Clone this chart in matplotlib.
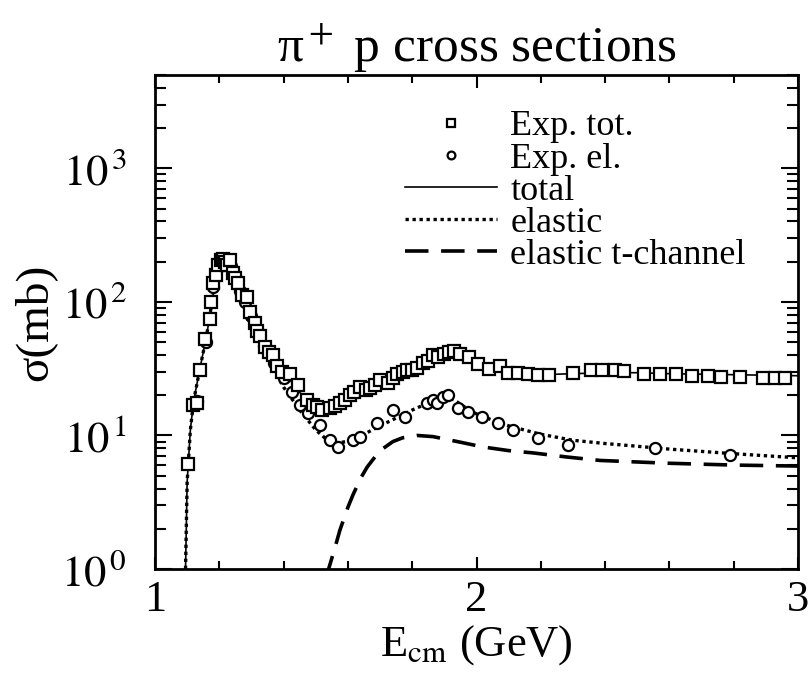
#!/usr/bin/env python3
from matplotlib import pyplot as plt
from matplotlib.ticker import LogLocator, MultipleLocator, FixedLocator

plt.rcParams['font.family'] = ['Liberation Serif', 'DejaVu Serif']
plt.rcParams['mathtext.fontset'] = 'stix'

# experimental total cross section (squares)
tot_E = [1.103, 1.118, 1.13, 1.14, 1.156, 1.171, 1.175, 1.18, 1.19, 1.196, 1.205,
         1.212, 1.218, 1.225, 1.233, 1.243, 1.25, 1.258, 1.27, 1.285, 1.295, 1.31,
         1.317, 1.327, 1.342, 1.355, 1.367, 1.38, 1.395, 1.42, 1.445, 1.472, 1.49,
         1.503, 1.52, 1.544, 1.56, 1.575, 1.59, 1.607, 1.62, 1.638, 1.655, 1.669,
         1.685, 1.70, 1.725, 1.74, 1.753, 1.77, 1.784, 1.80, 1.815, 1.834, 1.85,
         1.865, 1.88, 1.90, 1.915, 1.93, 1.95, 1.977, 2.004, 2.04, 2.073, 2.098,
         2.13, 2.16, 2.19, 2.225, 2.30, 2.357, 2.39, 2.43, 2.46, 2.52, 2.57, 2.62,
         2.67, 2.72, 2.76, 2.82, 2.89, 2.93, 2.96]
tot_sig = [6.1, 17, 17.5, 31, 53, 74, 100, 138, 160, 188, 205,
           210, 198, 190, 205, 166, 150, 138, 112, 108, 84, 70,
           61, 56, 45.6, 42, 40, 33, 30, 29, 24, 18.4, 17,
           16.3, 15.5, 16, 16.5, 17.5, 18.5, 20, 21, 23, 22, 22.5,
           24, 26, 24.6, 27, 29, 30, 31, 31, 32, 35, 36,
           40, 39, 40.6, 42, 42.7, 40.6, 39, 34, 31.4, 33, 29.6,
           29.3, 28.7, 28.3, 28.3, 29.3, 31, 31, 31, 30.5, 29, 28.7, 29,
           28, 27.7, 27.5, 27.5, 27, 27, 27]

# experimental elastic cross section (circles)
el_E = [1.118, 1.13, 1.16, 1.18, 1.20, 1.22, 1.235, 1.25, 1.265, 1.28, 1.30,
        1.32, 1.34, 1.37, 1.40, 1.426, 1.45, 1.476, 1.513, 1.544, 1.57, 1.616,
        1.638, 1.69, 1.74, 1.777, 1.846, 1.865, 1.877, 1.896, 1.91, 1.943, 1.974,
        2.017, 2.067, 2.114, 2.19, 2.285, 2.555, 2.79]
el_sig = [17.5, 18, 50, 130, 185, 195, 185, 155, 120, 100, 78,
          60, 47, 35, 27, 21, 17, 14.7, 12, 9.2, 8.2, 9.2,
          9.7, 12.4, 15.5, 13.7, 17.5, 18.4, 17.5, 19.3, 20, 16, 15,
          13.7, 12.4, 11, 9.5, 8.5, 8.0, 7.1]

# model curves
tot_line_E = [1.095, 1.10, 1.11, 1.12, 1.14, 1.16, 1.18, 1.20, 1.22, 1.235, 1.25,
              1.27, 1.30, 1.33, 1.36, 1.40, 1.45, 1.50, 1.53, 1.56, 1.60, 1.65,
              1.70, 1.75, 1.80, 1.85, 1.90, 1.93, 1.96, 2.00, 2.05, 2.10, 2.20,
              2.30, 2.40, 2.50, 2.60, 2.80, 3.00]
tot_line = [1.0, 4.5, 11, 18, 32, 55, 110, 175, 205, 200, 165,
            120, 78, 55, 40, 30, 21, 16, 15, 16, 19, 22.5,
            26, 29.5, 32.5, 37, 41, 42, 40, 35, 31, 29.5, 28.5,
            29, 29.5, 29.5, 29, 28.5, 28]

el_line_E = [1.095, 1.10, 1.11, 1.12, 1.14, 1.16, 1.18, 1.20, 1.22, 1.235, 1.25,
             1.27, 1.30, 1.33, 1.36, 1.40, 1.45, 1.50, 1.53, 1.56, 1.60, 1.65,
             1.70, 1.75, 1.80, 1.85, 1.90, 1.93, 1.96, 2.00, 2.05, 2.10, 2.20,
             2.30, 2.40, 2.50, 2.60, 2.80, 3.00]
el_line = [1.0, 4.5, 11, 18, 32, 55, 110, 175, 205, 200, 165,
           115, 72, 48, 34, 23, 15.5, 11, 9.5, 8.8, 9.0, 10.2,
           11.8, 13.5, 15.5, 17.5, 19.5, 18.5, 16.5, 14.5, 13, 11.8, 10.2,
           9.2, 8.7, 8.3, 7.9, 7.3, 6.8]

tch_E = [1.53, 1.54, 1.56, 1.575, 1.60, 1.616, 1.64, 1.66, 1.69, 1.71, 1.74,
         1.77, 1.815, 1.865, 1.95, 2.02, 2.10, 2.176, 2.28, 2.384, 2.59, 2.80, 3.0]
tch_sig = [0.85, 1.0, 1.45, 1.95, 2.9, 3.6, 4.8, 5.8, 7.2, 8.0, 9.0,
           9.6, 10.0, 9.8, 8.9, 8.2, 7.7, 7.4, 6.9, 6.5, 6.2, 6.0, 5.9]

fig = plt.figure(figsize=(8.1, 6.83), dpi=100)
ax = fig.add_axes([155 / 810, 114 / 683, 643 / 810, 494 / 683])

ax.plot(tot_E, tot_sig, ls='none', marker='s', ms=8.5, mfc='white', mec='black',
        mew=1.6, label='Exp. tot.', zorder=4)
ax.plot(el_E, el_sig, ls='none', marker='o', ms=8, mfc='white', mec='black',
        mew=1.6, label='Exp. el.', zorder=3)
ax.plot(tot_line_E, tot_line, color='black', lw=1.2, label='total')
ax.plot(el_line_E, el_line, color='black', lw=2.4, ls=(0, (1, 1.1)), label='elastic')
ax.plot(tch_E, tch_sig, color='black', lw=2.6, ls=(0, (6.5, 3.5)),
        label='elastic t-channel')

ax.set_yscale('log')
ax.set_xlim(1, 3)
ax.set_ylim(1, 5000)

ax.xaxis.set_major_locator(FixedLocator([1, 2, 3]))
ax.xaxis.set_minor_locator(MultipleLocator(0.2))
ax.yaxis.set_minor_locator(LogLocator(base=10, subs=range(2, 10), numticks=20))
ax.set_yticks([1, 10, 100, 1000])
ax.set_yticklabels([r'$10^{\,0}$', r'$10^{\,1}$', r'$10^{\,2}$', r'$10^{\,3}$'])
ax.set_xticklabels(['1', '2', '3'])

ax.tick_params(which='both', direction='in', top=True, right=True,
               labelsize=32, width=1.5)
ax.tick_params(axis='y', which='major', length=12, pad=20)
ax.tick_params(axis='y', which='minor', length=8)
ax.tick_params(axis='x', which='major', length=9, pad=8)
ax.tick_params(axis='x', which='minor', length=6)
for s in ax.spines.values():
    s.set_linewidth(2)

ax.set_title('π$^+$ p cross sections', fontsize=37, pad=10)
ax.set_xlabel(r'E$_{\rm cm}$ (GeV)', fontsize=32, labelpad=2)
ax.set_ylabel('σ(mb)', fontsize=34, labelpad=4)

ax.legend(loc='upper left', bbox_to_anchor=(0.389, 0.929), frameon=False,
          fontsize=26, handlelength=2.55, handletextpad=0.36, labelspacing=-0.03,
          borderpad=0, borderaxespad=0, markerscale=0.7)

plt.savefig('out.png', dpi=100)
